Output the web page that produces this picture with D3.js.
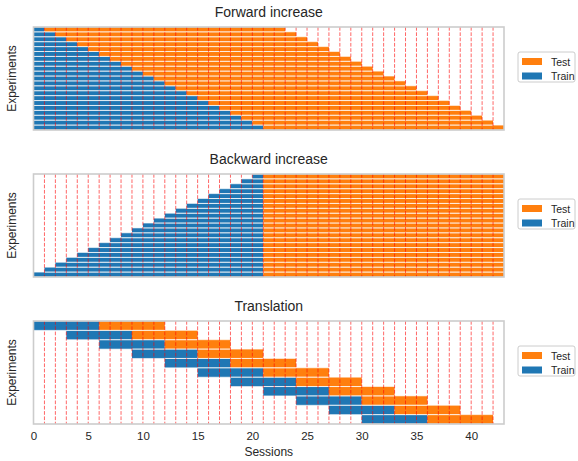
<!DOCTYPE html>
<html><head><meta charset="utf-8">
<script src="https://cdn.jsdelivr.net/npm/d3@7"></script>
<style>body{margin:0;background:#fff}svg{display:block}text{font-family:"Liberation Sans",Arial,sans-serif;fill:#262626}</style>
</head><body><div id="chart"></div>
<script>
// ---- data ----
const panelTitles = ["Forward increase", "Backward increase", "Translation"];
// Forward increase: 21 experiments (top to bottom)
const fwdTrainStart = [0,0,0,0,0,0,0,0,0,0,0,0,0,0,0,0,0,0,0,0,0];
const fwdTrainEnd   = [1,2,3,4,5,6,7,8,9,10,11,12,13,14,15,16,17,18,19,20,21];
const fwdTestEnd    = [23,24,25,26,27,28,29,30,31,32,33,34,35,36,37,38,39,40,41,42,43];
// Backward increase
const bwdTrainStart = [20,19,18,17,16,15,14,13,12,11,10,9,8,7,6,5,4,3,2,1,0];
const bwdTrainEnd   = [21,21,21,21,21,21,21,21,21,21,21,21,21,21,21,21,21,21,21,21,21];
const bwdTestEnd    = [43,43,43,43,43,43,43,43,43,43,43,43,43,43,43,43,43,43,43,43,43];
// Translation
const trnTrainStart = [0,3,6,9,12,15,18,21,24,27,30];
const trnTrainEnd   = [6,9,12,15,18,21,24,27,30,33,36];
const trnTestEnd    = [12,15,18,21,24,27,30,33,36,39,42];
// session boundaries (red dashed)
const sessionMarks = [1,2,3,4,5,6,7,8,9,10,11,12,13,14,15,16,17,18,19,20,21,22,23,24,25,26,27,28,29,30,31,32,33,34,35,36,37,38,39,40,41,42];
const xTicks = [0,5,10,15,20,25,30,35,40];
const xDomain = [0,43];
const legendLabels = ["Test","Train"];
const colTrain = "#1f77b4", colTest = "#ff7f0e";

const panelsData = [
  {start: fwdTrainStart, mid: fwdTrainEnd, end: fwdTestEnd},
  {start: bwdTrainStart, mid: bwdTrainEnd, end: bwdTestEnd},
  {start: trnTrainStart, mid: trnTrainEnd, end: trnTestEnd}
];

// ---- layout ----
const W = 578, H = 461;
const left = 33.5, right = 504;
const tops = [27, 174, 321], ph = 103;
const svg = d3.select("#chart").append("svg").attr("width", W).attr("height", H);
const x = d3.scaleLinear().domain(xDomain).range([left, right]);

panelsData.forEach((pd, pi) => {
  const top = tops[pi];
  const rows = d3.range(pd.start.length);
  const y = d3.scaleBand().domain(rows).range([top, top + ph]).padding(0);
  const g = svg.append("g");
  g.selectAll(".tr").data(rows).join("rect")
    .attr("x", i => x(pd.start[i])).attr("width", i => x(pd.mid[i]) - x(pd.start[i]))
    .attr("y", i => y(i)).attr("height", y.bandwidth()).attr("fill", colTrain);
  g.selectAll(".te").data(rows).join("rect")
    .attr("x", i => x(pd.mid[i])).attr("width", i => x(pd.end[i]) - x(pd.mid[i]))
    .attr("y", i => y(i)).attr("height", y.bandwidth()).attr("fill", colTest);
  rows.forEach(i => {
    [y(i), y(i) + y.bandwidth()].forEach(yy => {
      g.append("line").attr("x1", x(pd.start[i])).attr("x2", x(pd.end[i]))
        .attr("y1", yy).attr("y2", yy)
        .attr("stroke", "#fff").attr("stroke-width", 0.9).attr("stroke-opacity", 0.65);
    });
  });
  g.selectAll(".sl").data(sessionMarks).join("line")
    .attr("x1", d => x(d)).attr("x2", d => x(d))
    .attr("y1", top).attr("y2", top + ph)
    .attr("stroke", "red").attr("stroke-opacity", 0.6).attr("stroke-width", 1)
    .attr("stroke-dasharray", "3.7,1.6");
  g.append("rect").attr("x", left).attr("y", top).attr("width", right - left).attr("height", ph)
    .attr("fill", "none").attr("stroke", "#cccccc").attr("stroke-width", 1.6);
  svg.append("text").attr("x", (left + right) / 2).attr("y", top - 10)
    .attr("text-anchor", "middle").attr("font-size", 14).text(panelTitles[pi]);
  svg.append("text").attr("transform", `translate(16,${top + ph / 2}) rotate(-90)`)
    .attr("text-anchor", "middle").attr("font-size", 12).text("Experiments");
  const ly = top + 25;
  const lg = svg.append("g").attr("transform", `translate(518,${ly})`);
  lg.append("rect").attr("x", 0).attr("y", 0).attr("width", 57).attr("height", 30).attr("rx", 2)
    .attr("fill", "#fff").attr("stroke", "#cccccc").attr("stroke-width", 1);
  [colTest, colTrain].forEach((c, k) => {
    lg.append("rect").attr("x", 4).attr("y", 6 + k * 14.5).attr("width", 20).attr("height", 7).attr("fill", c);
    lg.append("text").attr("x", 33).attr("y", 13.5 + k * 14.5).attr("font-size", 10.5).text(legendLabels[k]);
  });
});

const axisY = tops[2] + ph;
const ax = svg.append("g").attr("transform", `translate(0,${axisY})`)
  .call(d3.axisBottom(x).tickValues(xTicks).tickSize(0).tickPadding(8).tickFormat(d3.format("d")));
ax.select(".domain").remove();
ax.selectAll("text").attr("font-size", 11.5).attr("fill", "#262626").style("font-family", "Liberation Sans, Arial, sans-serif");
svg.append("text").attr("x", (left + right) / 2).attr("y", 456).attr("text-anchor", "middle")
  .attr("font-size", 12).text("Sessions");
</script></body></html>
